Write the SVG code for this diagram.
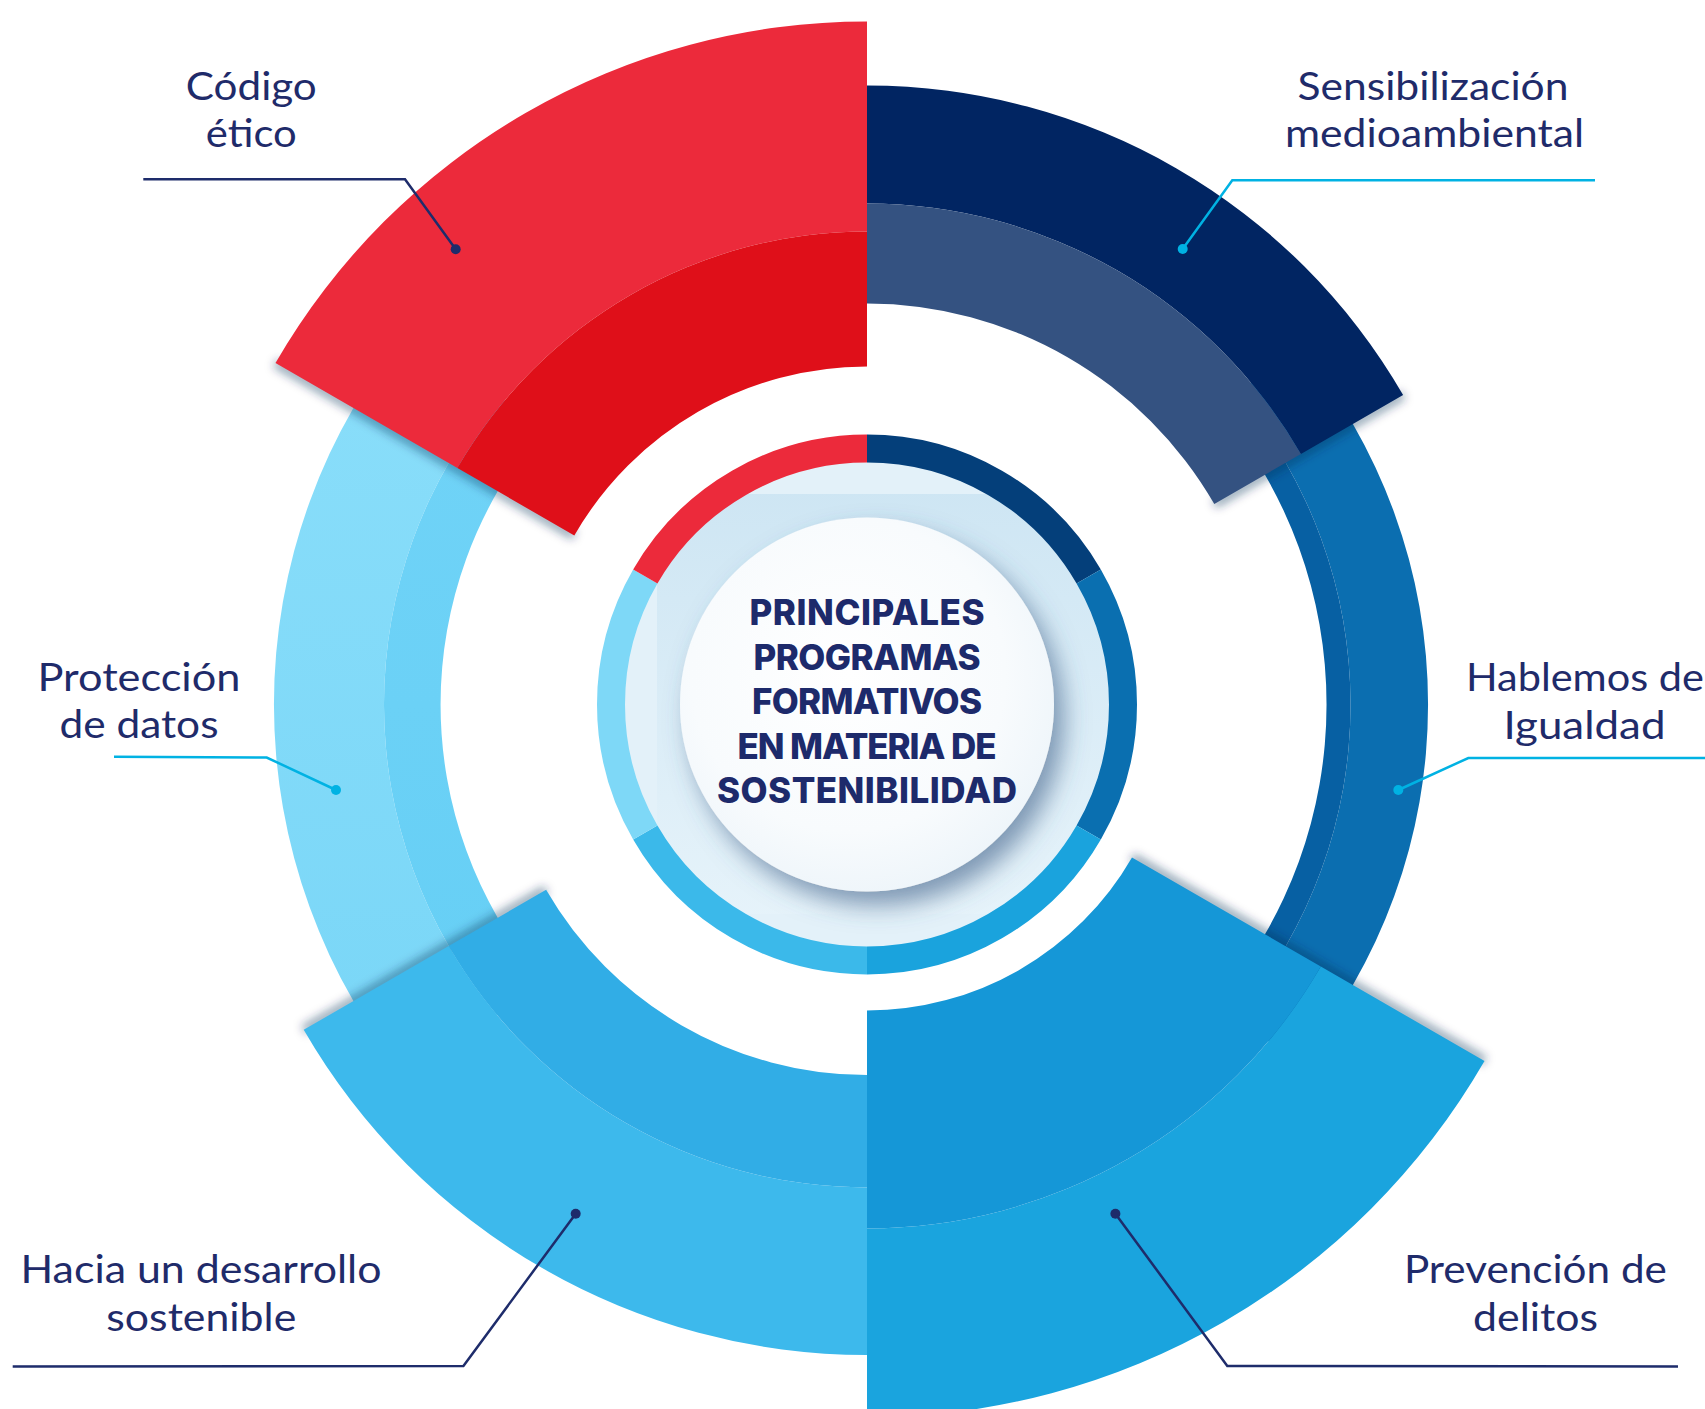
<svg xmlns="http://www.w3.org/2000/svg" width="1705" height="1409" viewBox="0 0 1705 1409">
<style>
.lbl{font-family:"Lato","Liberation Sans",sans-serif;font-size:39px;fill:#1f2b6a;text-anchor:middle}
.ttl{font-family:"Inter","Liberation Sans",sans-serif;font-weight:800;font-size:35px;fill:#1d2a6b;text-anchor:middle}
.nv{fill:none;stroke:#1e2c6b;stroke-width:2.5}
.cy{fill:none;stroke:#00b2e3;stroke-width:2.5}
.dnv{fill:#1e2c6b}
.dcy{fill:#00b2e3}
.sh{stroke:#0d2b52;stroke-opacity:0.45;stroke-width:9;fill:none;filter:url(#blur)}
.seg{fill:none;stroke-width:28}
</style>
<defs>
<filter id="blur" x="-50%" y="-50%" width="200%" height="200%"><feGaussianBlur stdDeviation="5"/></filter>
<filter id="csh" x="-30%" y="-30%" width="160%" height="160%"><feDropShadow dx="10" dy="14" stdDeviation="12" flood-color="#3d5f86" flood-opacity="0.6"/></filter>
<linearGradient id="cyanOut" x1="0" y1="0" x2="0" y2="1"><stop offset="0" stop-color="#8adefa"/><stop offset="1" stop-color="#79d6f7"/></linearGradient>
<linearGradient id="cyanIn" x1="0" y1="0" x2="0" y2="1"><stop offset="0" stop-color="#70d3f7"/><stop offset="1" stop-color="#66cff5"/></linearGradient>
<linearGradient id="rectG" x1="0" y1="0" x2="0" y2="1"><stop offset="0" stop-color="#c9e3f2"/><stop offset="1" stop-color="#e6f3fa"/></linearGradient>
<radialGradient id="whiteG" cx="0.45" cy="0.42" r="0.6"><stop offset="0" stop-color="#ffffff"/><stop offset="0.7" stop-color="#f8fbfd"/><stop offset="1" stop-color="#eef5fa"/></radialGradient>
<clipPath id="discClip"><circle cx="867" cy="704.5" r="243"/></clipPath>
</defs>
<rect width="1705" height="1409" fill="#ffffff"/>

<!-- rings lying underneath -->
<g id="node-proteccion">
<path d="M412.7,323.3 A593 593 0 0 0 412.7,1085.7 L497,1015 A483 483 0 0 1 497,394 Z" fill="url(#cyanOut)"/>
<path d="M497,394 A483 483 0 0 0 497,1015 L540.3,978.6 A426.5 426.5 0 0 1 540.3,430.4 Z" fill="url(#cyanIn)"/>
<text class="lbl" x="139" y="690.7" textLength="203" lengthAdjust="spacingAndGlyphs">Protección</text>
<text class="lbl" x="139" y="738.3" textLength="159" lengthAdjust="spacingAndGlyphs">de datos</text>
</g>
<g id="node-hablemos">
<path d="M1296.8,343.9 A561 561 0 0 1 1296.8,1065.1 L1237.4,1015.3 A483.5 483.5 0 0 0 1237.4,393.7 Z" fill="#0b6eb0"/>
<path d="M1237.4,393.7 A483.5 483.5 0 0 1 1237.4,1015.3 L1219,999.9 A459.5 459.5 0 0 0 1219,409.1 Z" fill="#0760a3"/>
<text class="lbl" x="1585" y="691" textLength="238" lengthAdjust="spacingAndGlyphs">Hablemos de</text>
<text class="lbl" x="1584.5" y="739" textLength="162" lengthAdjust="spacingAndGlyphs">Igualdad</text>
</g>

<!-- edge shadows -->
<g id="shadows">
<line class="sh" x1="574.3" y1="535.5" x2="275.5" y2="363"/>
<line class="sh" x1="1214.3" y1="504" x2="1403.1" y2="395"/>
<line class="sh" x1="1132" y1="857.5" x2="1484.5" y2="1061"/>
<line class="sh" x1="546.1" y1="889.8" x2="303.7" y2="1029.8"/>
</g>

<g id="node-sensibilizacion">
<path d="M867,85.5 A619 619 0 0 1 1403.1,395 L1300.9,454 A501 501 0 0 0 867,203.5 Z" fill="#012562"/>
<path d="M867,203.5 A501 501 0 0 1 1300.9,454 L1214.3,504 A401 401 0 0 0 867,303.5 Z" fill="#345281"/>
<text class="lbl" x="1433" y="100" textLength="271" lengthAdjust="spacingAndGlyphs">Sensibilización</text>
<text class="lbl" x="1434.5" y="147.3" textLength="299" lengthAdjust="spacingAndGlyphs">medioambiental</text>
</g>
<g id="node-codigo">
<path d="M867,21.5 A683 683 0 0 0 275.5,363 L457.4,468 A473 473 0 0 1 867,231.5 Z" fill="#ec2a3b"/>
<path d="M867,231.5 A473 473 0 0 0 457.4,468 L574.3,535.5 A338 338 0 0 1 867,366.5 Z" fill="#df0f19"/>
<text class="lbl" x="251.3" y="100" textLength="131" lengthAdjust="spacingAndGlyphs">Código</text>
<text class="lbl" x="251.3" y="147.3" textLength="91" lengthAdjust="spacingAndGlyphs">ético</text>
</g>
<g id="node-hacia">
<path d="M867,1355 A650.5 650.5 0 0 1 303.7,1029.8 L448.7,946 A483 483 0 0 0 867,1187.5 Z" fill="#3db9ec"/>
<path d="M867,1187.5 A483 483 0 0 1 448.7,946 L546.1,889.8 A370.5 370.5 0 0 0 867,1075 Z" fill="#31ade6"/>
<text class="lbl" x="201" y="1282.8" textLength="361" lengthAdjust="spacingAndGlyphs">Hacia un desarrollo</text>
<text class="lbl" x="201.3" y="1331" textLength="190" lengthAdjust="spacingAndGlyphs">sostenible</text>
</g>
<g id="node-prevencion">
<path d="M1484.5,1061 A713 713 0 0 1 867,1417.5 L867,1228.5 A524 524 0 0 0 1320.8,966.5 Z" fill="#1aa4de"/>
<path d="M1320.8,966.5 A524 524 0 0 1 867,1228.5 L867,1010.5 A306 306 0 0 0 1132,857.5 Z" fill="#1597d7"/>
<text class="lbl" x="1535.4" y="1282.8" textLength="263" lengthAdjust="spacingAndGlyphs">Prevención de</text>
<text class="lbl" x="1535.6" y="1331" textLength="125" lengthAdjust="spacingAndGlyphs">delitos</text>
</g>

<!-- centre -->
<g id="node-centro">
<circle cx="867" cy="704.5" r="243" fill="#e3f1f9"/>
<rect x="657" y="494" width="470" height="420" fill="url(#rectG)" opacity="0.8" clip-path="url(#discClip)"/>
<path class="seg" stroke="#043f7a" d="M867,448.5 A256 256 0 0 1 1088.7,576.5"/>
<path class="seg" stroke="#0a6fb0" d="M1088.7,576.5 A256 256 0 0 1 1088.7,832.5"/>
<path class="seg" stroke="#1aa3dd" d="M1088.7,832.5 A256 256 0 0 1 867,960.5"/>
<path class="seg" stroke="#3bb9ea" d="M867,960.5 A256 256 0 0 1 645.3,832.5"/>
<path class="seg" stroke="#7ed8f7" d="M645.3,832.5 A256 256 0 0 1 645.3,576.5"/>
<path class="seg" stroke="#ec2a3b" d="M645.3,576.5 A256 256 0 0 1 867,448.5"/>
<circle cx="867" cy="704.5" r="187" fill="url(#whiteG)" filter="url(#csh)"/>
<text class="ttl" x="867" y="625.4" textLength="235">PRINCIPALES</text>
<text class="ttl" x="867" y="669.5" textLength="227">PROGRAMAS</text>
<text class="ttl" x="867" y="714" textLength="230">FORMATIVOS</text>
<text class="ttl" x="867" y="758.5" textLength="259">EN MATERIA DE</text>
<text class="ttl" x="867" y="803" textLength="300">SOSTENIBILIDAD</text>
</g>

<!-- connectors -->
<g id="connectors">
<polyline class="nv" points="143.3,179.3 405,179.3 455.7,249.3"/>
<circle class="dnv" cx="455.7" cy="249.3" r="5"/>
<polyline class="cy" points="1595,180.3 1232.3,180.3 1182.7,249"/>
<circle class="dcy" cx="1182.7" cy="249" r="5"/>
<polyline class="cy" points="114,756.7 266.7,757.5 336,790"/>
<circle class="dcy" cx="336" cy="790" r="5"/>
<polyline class="cy" points="1705,758 1468.3,758 1398.3,790"/>
<circle class="dcy" cx="1398.3" cy="790" r="5"/>
<polyline class="nv" points="12.7,1366.5 463.4,1366 575.7,1213.7"/>
<circle class="dnv" cx="575.7" cy="1213.7" r="5"/>
<polyline class="nv" points="1678,1366.5 1227.3,1366 1115.4,1213.7"/>
<circle class="dnv" cx="1115.4" cy="1213.7" r="5"/>
</g>
</svg>
